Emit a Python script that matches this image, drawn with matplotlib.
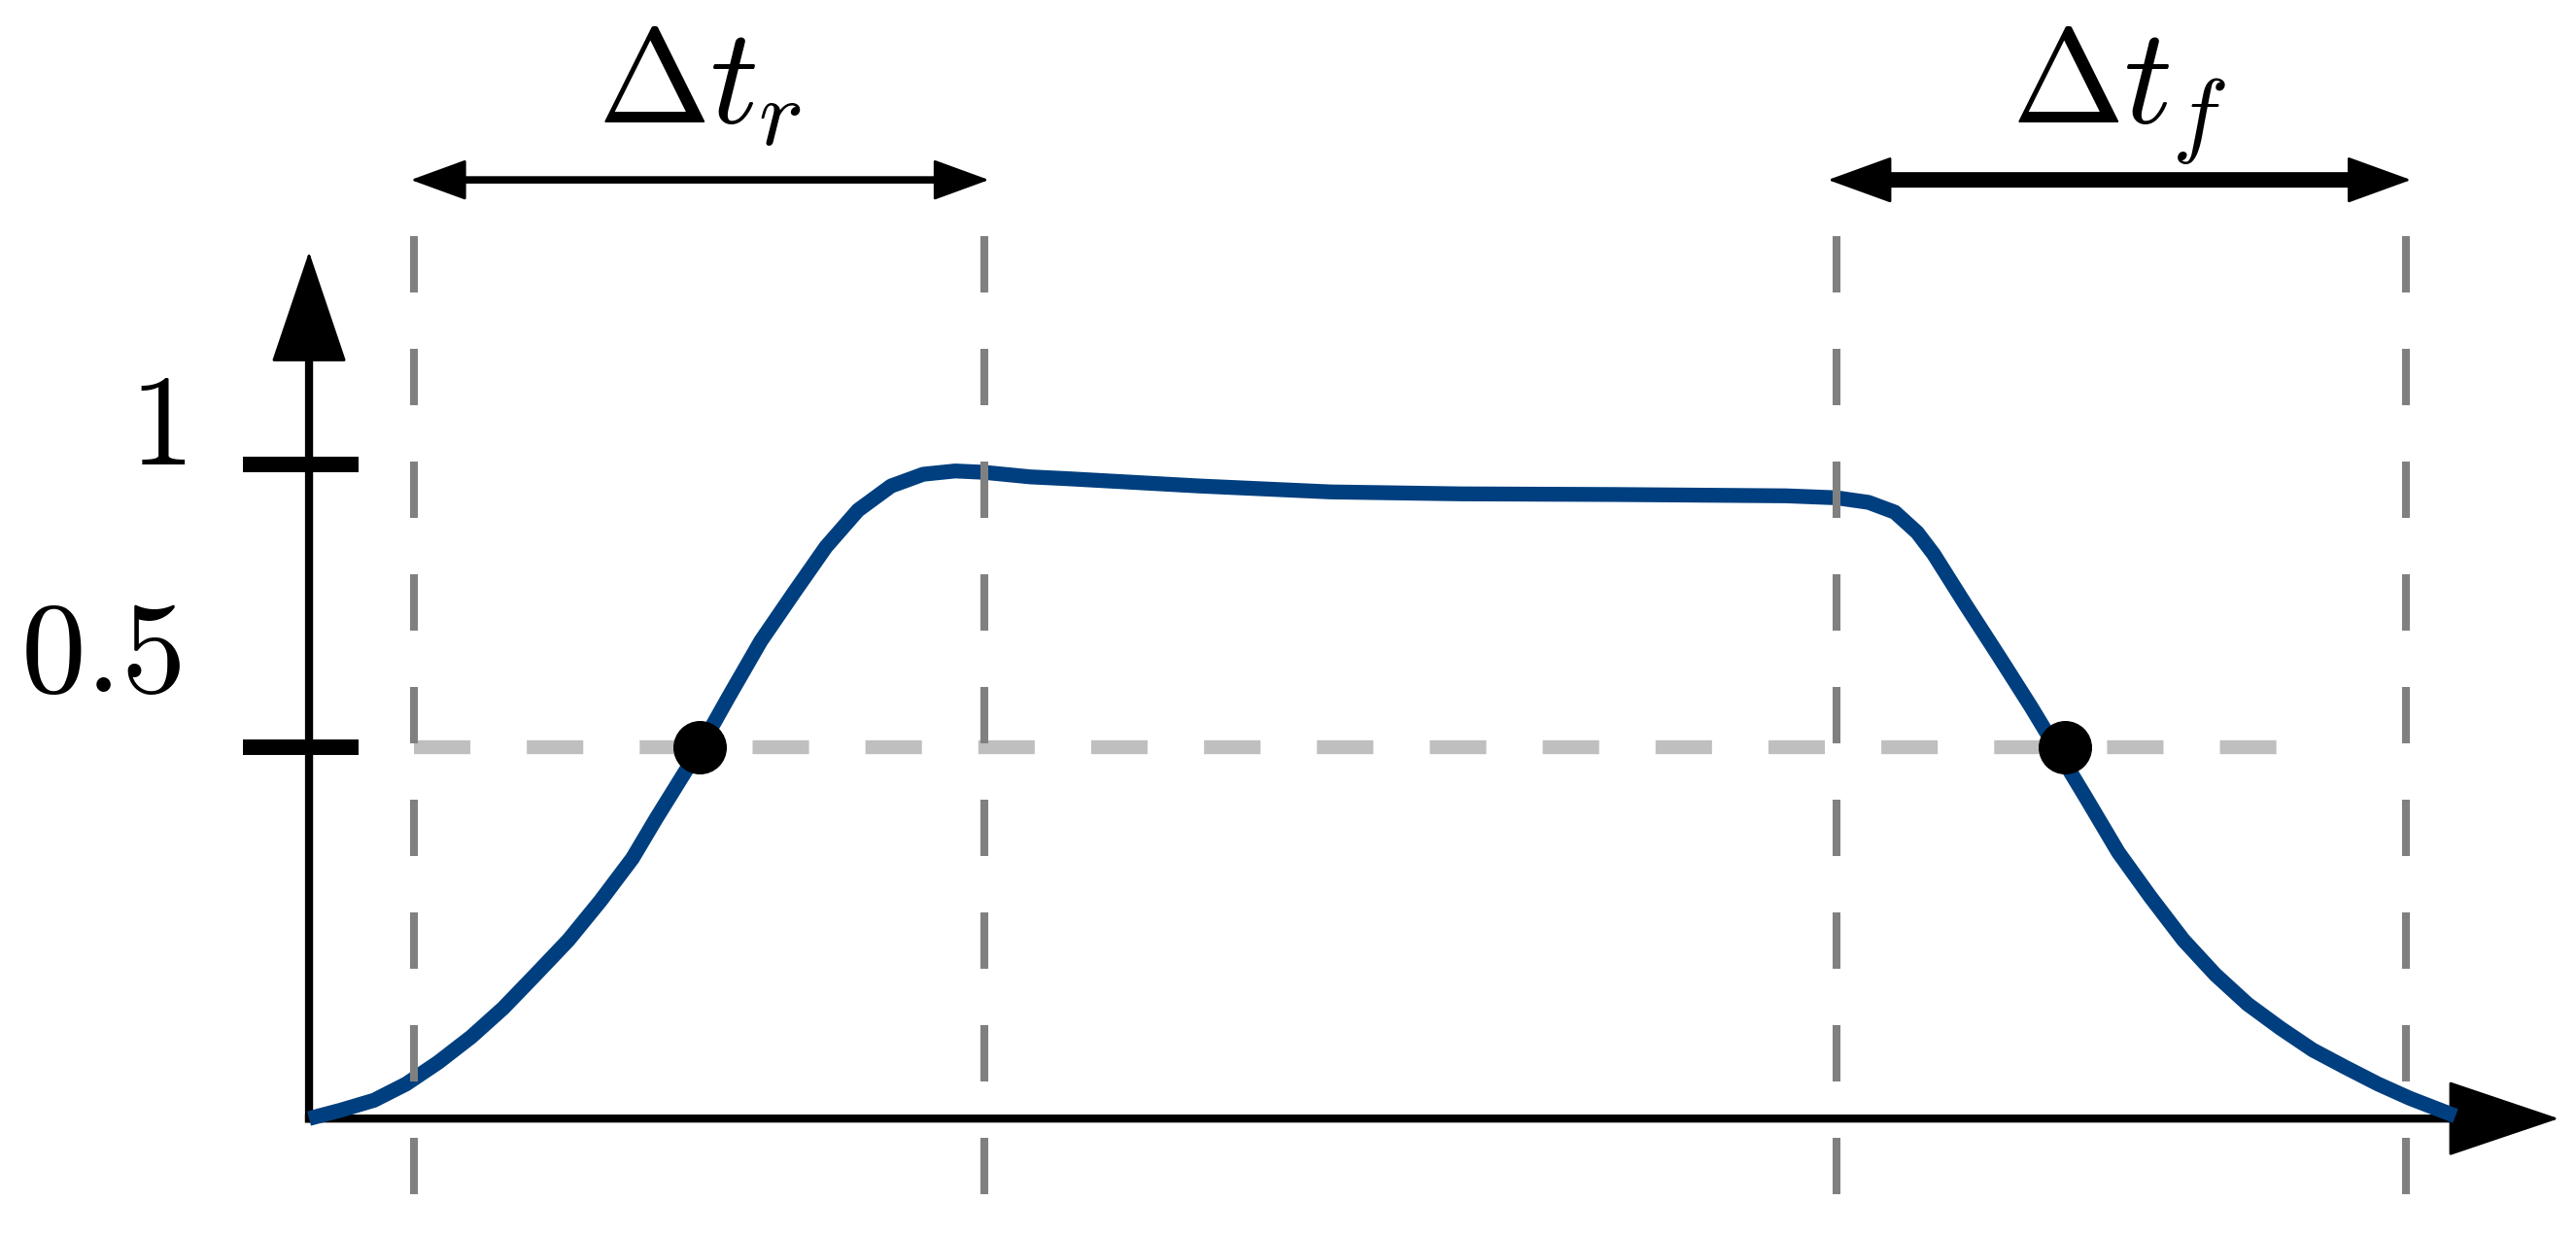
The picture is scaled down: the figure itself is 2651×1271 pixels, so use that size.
"""Rise / fall time sketch: Delta t_r and Delta t_f measured between dashed guides."""
import matplotlib
matplotlib.use("Agg")
import matplotlib.pyplot as plt  # noqa: E402

plt.rcParams["mathtext.fontset"] = "cm"

# pulse (x in arbitrary time units, y normalised)
CURVE_T = [0.000, 0.195, 0.396, 0.592, 0.787, 0.988, 1.183, 1.379, 1.580, 1.775, 1.970,
           2.112, 2.379, 2.556, 2.751, 2.953, 3.148, 3.343, 3.544, 3.740, 3.935, 4.107,
           4.391, 4.633, 5.426, 6.219, 7.012, 7.964, 8.994, 9.302, 9.497, 9.657, 9.793,
           9.893, 10.089, 10.290, 10.485, 10.692, 10.822, 11.018, 11.213, 11.414, 11.609,
           11.805, 12.006, 12.201, 12.396, 12.598, 12.793, 13.071]
CURVE_V = [0.000, 0.013, 0.028, 0.053, 0.086, 0.125, 0.169, 0.220, 0.273, 0.333, 0.398,
           0.458, 0.566, 0.645, 0.730, 0.804, 0.874, 0.930, 0.967, 0.985, 0.990, 0.988,
           0.981, 0.978, 0.967, 0.958, 0.955, 0.954, 0.952, 0.949, 0.942, 0.927, 0.896,
           0.863, 0.785, 0.707, 0.630, 0.544, 0.490, 0.407, 0.339, 0.273, 0.220,
           0.175, 0.138, 0.105, 0.079, 0.053, 0.031, 0.004]
GUIDES_T = [0.64, 4.11, 9.30, 12.77]     # dashed vertical guides
CROSS_T = [2.379, 10.692]                # where the curve crosses the half level
HALF_LEVEL = 0.567
YTICKS = [1.0, 0.567]
YTICK_LABELS = ["1", "0.5"]
SPAN_LABELS = [r"$\Delta t_r$", r"$\Delta t_f$"]

BLUE = "#003f7f"


def arrow(ax, start, end, lw, hl, hw, style="-|>", z=2.5):
    """Thick shaft + crisp filled head(s); hl/hw in points."""
    both = style.startswith("<")
    ax.annotate("", xy=end, xytext=start,
                arrowprops=dict(arrowstyle="-", lw=lw, color="k", capstyle="projecting",
                                shrinkA=hl - 4 if both else 0, shrinkB=hl - 4),
                zorder=z)
    ax.annotate("", xy=end, xytext=start,
                arrowprops=dict(arrowstyle=f"{style},head_length={hl},head_width={hw}",
                                lw=2, color="k", mutation_scale=1, shrinkA=0, shrinkB=0,
                                joinstyle="round"),
                zorder=z)


fig = plt.figure(figsize=(26.51, 12.71), dpi=100)
ax = fig.add_axes([0, 0, 1, 1])
ax.set_xlim(-1.882, 13.805)
ax.set_ylim(-0.178, 1.710)
ax.axis("off")

# dashed guides
for t in GUIDES_T:
    ax.plot([t, t], [1.349, -0.129], color="#808080", lw=5.8, ls=(0, (7.2, 7.2)),
            solid_capstyle="butt", zorder=3)
ax.plot([GUIDES_T[0], 12.07], [HALF_LEVEL, HALF_LEVEL], color="#bfbfbf", lw=10.3,
        ls=(0, (4.06, 4.06)), zorder=1)

# axes with arrow heads
arrow(ax, (0, 0), (0, 1.325), lw=6, hl=77, hw=26, z=1.5)
arrow(ax, (0, 0), (13.70, 0), lw=6, hl=77, hw=26, z=1.5)
for yt, lab, dy, lx in zip(YTICKS, YTICK_LABELS, [0.0, 0.085], [-0.75, -0.78]):
    ax.plot([-0.40, 0.30], [yt, yt], color="k", lw=11.5, solid_capstyle="butt", zorder=1.5)
    ax.text(lx, yt + dy, "$%s$" % lab, fontsize=96, ha="right", va="baseline")

# signal + half-level crossings
ax.plot(CURVE_T, CURVE_V, color=BLUE, lw=11, solid_joinstyle="round",
        solid_capstyle="butt", zorder=2)
ax.plot(CROSS_T, [HALF_LEVEL] * len(CROSS_T), "o", color="k", ms=38.6, zorder=4)

# span arrows on top
spans = [(GUIDES_T[0] - 0.02, GUIDES_T[1] + 0.03, 5.5, 37, 13.5),
         (GUIDES_T[2] - 0.05, GUIDES_T[3] + 0.03, 11.5, 43, 15.6)]
for (a, b, lw, hl, hw), lab in zip(spans, SPAN_LABELS):
    arrow(ax, (a, 1.435), (b, 1.435), lw=lw, hl=hl, hw=hw, style="<|-|>")
    ax.text((a + b) / 2, 1.523, lab, fontsize=100, ha="center", va="baseline")

fig.savefig("out.png", dpi=100)
